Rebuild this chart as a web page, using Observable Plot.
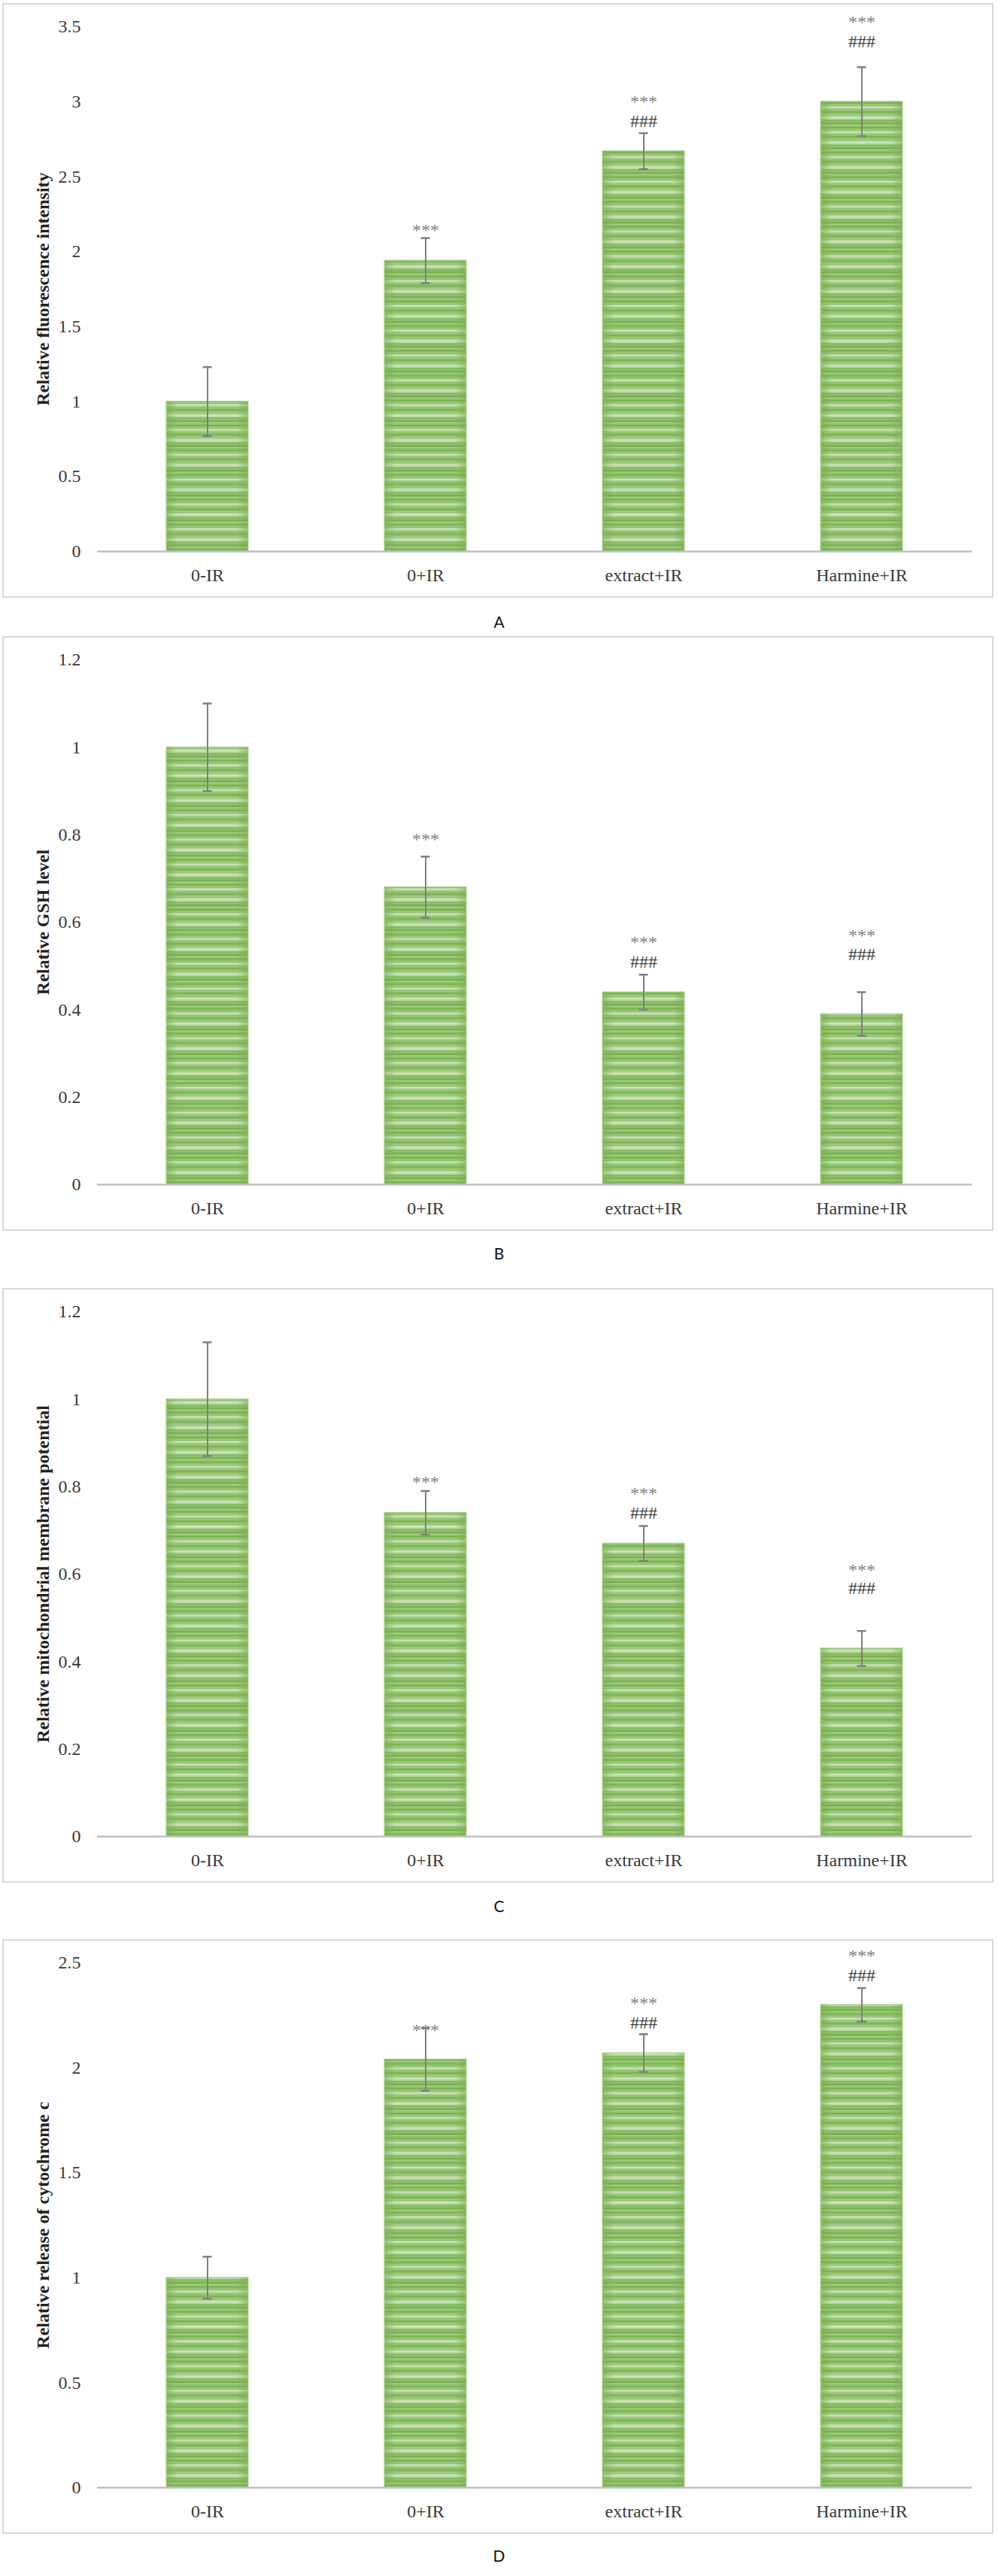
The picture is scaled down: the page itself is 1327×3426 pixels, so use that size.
<!DOCTYPE html>
<html>
<head>
<meta charset="utf-8">
<script src="https://cdn.jsdelivr.net/npm/d3@7"></script>
<script src="https://cdn.jsdelivr.net/npm/@observablehq/plot@0.6"></script>
<style>
  body { margin: 0; background: #fff; }
  #root { position: relative; width: 1327px; height: 3426px; overflow: hidden; }
  .box { position: absolute; left: 3px; width: 1314px; height: 787px; border: 2px solid #d9d9d9; box-sizing: content-box; }
  .panel { position: absolute; left: 0; }
  .cap { position: absolute; left: 0; width: 1327px; height: 30px; line-height: 30px; text-align: center;
         font-family: Lato, "Noto Sans", sans-serif; font-size: 21px; color: #111; }
</style>
</head>
<body>
<svg width="0" height="0" style="position:absolute">
  <defs>
    <pattern id="stripes" patternUnits="userSpaceOnUse" width="10" height="33">
      <rect x="0" y="0" width="10" height="33" fill="#8fc06b"/>
      <rect x="0" y="0" width="10" height="1.5" fill="#7ab14f"/>
      <rect x="0" y="3" width="10" height="1" fill="#a3cc85"/>
      <rect x="0" y="5" width="10" height="4" fill="#b5d69c"/>
      <rect x="0" y="6" width="10" height="1" fill="#d0e6c0"/>
      <rect x="0" y="10" width="10" height="1" fill="#9dc87e"/>
      <rect x="0" y="12" width="10" height="2" fill="#7fb556"/>
      <rect x="0" y="16" width="10" height="1" fill="#a8cf8c"/>
      <rect x="0" y="18" width="10" height="5" fill="#bcd9a5"/>
      <rect x="0" y="20" width="10" height="1" fill="#d4e8c5"/>
      <rect x="0" y="24" width="10" height="1" fill="#86ba5f"/>
      <rect x="0" y="27" width="10" height="2" fill="#7ab14f"/>
      <rect x="0" y="30" width="10" height="1" fill="#a5cd88"/>
    </pattern>
    <linearGradient id="edgeShade" x1="0" x2="1" y1="0" y2="0">
      <stop offset="0" stop-color="#78b04d" stop-opacity="0.6"/>
      <stop offset="0.14" stop-color="#78b04d" stop-opacity="0"/>
      <stop offset="0.86" stop-color="#78b04d" stop-opacity="0"/>
      <stop offset="1" stop-color="#78b04d" stop-opacity="0.6"/>
    </linearGradient>
  </defs>
</svg>
<div id="root"></div>
<script>
// ---- data ----
const categories = ["0-IR", "0+IR", "extract+IR", "Harmine+IR"];

const titleA = "Relative fluorescence intensity";
const meanA = [1.00, 1.94, 2.67, 3.00];
const errA  = [0.23, 0.15, 0.12, 0.23];
const starA = [null, 2.17, 3.03, 3.56];   // y position of "***"
const hashA = [null, null, 2.87, 3.40];   // y position of "###"
const ticksA = [0, 0.5, 1, 1.5, 2, 2.5, 3, 3.5];

const titleB = "Relative GSH level";
const meanB = [1.00, 0.68, 0.44, 0.39];
const errB  = [0.10, 0.07, 0.04, 0.05];
const starB = [null, 0.80, 0.565, 0.58];
const hashB = [null, null, 0.51, 0.527];
const ticksB = [0, 0.2, 0.4, 0.6, 0.8, 1, 1.2];

const titleC = "Relative mitochondrial membrane potential";
const meanC = [1.00, 0.74, 0.67, 0.43];
const errC  = [0.13, 0.05, 0.04, 0.04];
const starC = [null, 0.82, 0.795, 0.62];
const hashC = [null, null, 0.74, 0.567];
const ticksC = [0, 0.2, 0.4, 0.6, 0.8, 1, 1.2];

const titleD = "Relative release of cytochrome c";
const meanD = [1.00, 2.04, 2.07, 2.30];
const errD  = [0.10, 0.15, 0.09, 0.08];
const starD = [null, 2.20, 2.33, 2.555];
const hashD = [null, null, 2.215, 2.44];
const ticksD = [0, 0.5, 1, 1.5, 2, 2.5];

const captions = ["A", "B", "C", "D"];

// ---- layout ----
const panels = [
  {title: titleA, mean: meanA, err: errA, star: starA, hash: hashA, ticks: ticksA, top: 4,    cap: 827},
  {title: titleB, mean: meanB, err: errB, star: starB, hash: hashB, ticks: ticksB, top: 846,  cap: 1667},
  {title: titleC, mean: meanC, err: errC, star: starC, hash: hashC, ticks: ticksC, top: 1713, cap: 2535},
  {title: titleD, mean: meanD, err: errD, star: starD, hash: hashD, ticks: ticksD, top: 2579, cap: 3399}
];

const root = document.getElementById("root");
const fmt = d => String(+d.toFixed(1));
const errColor = "#7f7f7f";

panels.forEach((p, k) => {
  const rows = categories.map((c, i) => ({cat: c, mean: p.mean[i], lo: p.mean[i] - p.err[i], hi: p.mean[i] + p.err[i]}));
  const stars = categories.map((c, i) => ({cat: c, y: p.star[i]})).filter(d => d.y != null);
  const hashes = categories.map((c, i) => ({cat: c, y: p.hash[i]})).filter(d => d.y != null);

  const box = document.createElement("div");
  box.className = "box";
  box.style.top = p.top + "px";
  root.appendChild(box);

  const chart = Plot.plot({
    width: 1327,
    height: 791,
    marginTop: 31,
    marginBottom: 62,
    marginLeft: 129,
    marginRight: 35,
    style: {fontFamily: '"Liberation Serif", "Times New Roman", serif', fontSize: "24px", color: "#3a3a3a", background: "transparent", overflow: "visible"},
    x: {domain: categories, paddingInner: 0.625, paddingOuter: 0.3125, label: null},
    y: {domain: [0, p.ticks[p.ticks.length - 1]], label: null},
    marks: [
      Plot.axisY({ticks: p.ticks, tickSize: 0, tickPadding: 22, tickFormat: fmt, label: null}),
      Plot.axisX({tickSize: 0, tickPadding: 22, label: null}),
      Plot.barY(rows, {x: "cat", y: "mean", fill: "url(#stripes)"}),
      Plot.barY(rows, {x: "cat", y: "mean", fill: "url(#edgeShade)", stroke: "#a9d18e", strokeWidth: 1}),
      Plot.ruleY([0], {stroke: "#bfbfbf", strokeWidth: 2.5}),
      Plot.ruleX(rows, {x: "cat", y1: "lo", y2: "hi", stroke: errColor, strokeWidth: 2}),
      Plot.tickY(rows, {x: "cat", y: "lo", insetLeft: 48.5, insetRight: 48.5, stroke: errColor, strokeWidth: 2.5}),
      Plot.tickY(rows, {x: "cat", y: "hi", insetLeft: 48.5, insetRight: 48.5, stroke: errColor, strokeWidth: 2.5}),
      Plot.text(stars, {x: "cat", y: "y", text: () => "***", fill: "#7f7f7f", fontSize: 24, dy: 6}),
      Plot.text(hashes, {x: "cat", y: "y", text: () => "###", fill: "#404040", fontSize: 24}),
      Plot.text([p.title], {frameAnchor: "left", textAnchor: "middle", text: d => d, rotate: -90, dx: -72, fontWeight: "bold", fontSize: 24, fill: "#222"})
    ]
  });
  chart.classList.add("panel");
  chart.style.top = p.top + "px";
  root.appendChild(chart);

  const cap = document.createElement("div");
  cap.className = "cap";
  cap.style.top = (p.cap - 15) + "px";
  cap.textContent = captions[k];
  root.appendChild(cap);
});
</script>
</body>
</html>
